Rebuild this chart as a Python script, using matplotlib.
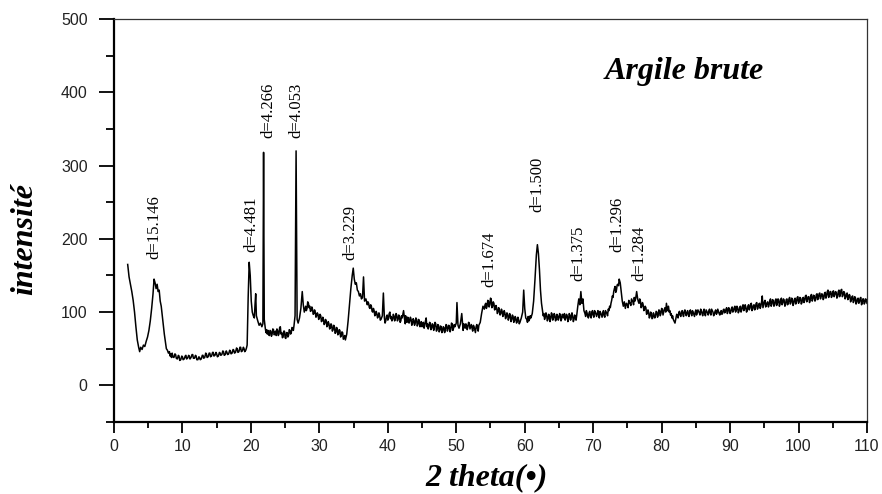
import matplotlib
matplotlib.use("Agg")
import matplotlib.pyplot as plt
from matplotlib.ticker import MultipleLocator

# Diffractogramme (2 theta, intensité)
diffractogramme = [
    (2.0, 165), (2.2, 148), (2.4, 138), (2.6, 128), (2.8, 116), (3.0, 100), (3.2, 80), (3.4, 62),
    (3.6, 52), (3.75, 46), (3.9, 52), (4.1, 49), (4.3, 55), (4.5, 53), (4.7, 60), (4.9, 66),
    (5.1, 75), (5.3, 88), (5.5, 105), (5.7, 125), (5.85, 145), (6.0, 140), (6.15, 132), (6.3, 138),
    (6.45, 128), (6.6, 130), (6.75, 115), (6.9, 108), (7.05, 95), (7.2, 82), (7.35, 70), (7.5, 60),
    (7.65, 50), (7.8, 48), (7.95, 44),
    (8.1, 46), (8.2, 40), (8.3, 43), (8.4, 38), (8.5, 44), (8.6, 39), (8.75, 38), (8.9, 43),
    (9.0, 42), (9.1, 37), (9.25, 36), (9.4, 41), (9.5, 40), (9.6, 34), (9.75, 35), (9.9, 40),
    (10.0, 39), (10.1, 35), (10.25, 36), (10.4, 40), (10.5, 41), (10.6, 36), (10.75, 37), (10.9, 41),
    (11.0, 40), (11.1, 36), (11.25, 38), (11.4, 42), (11.5, 42), (11.6, 37), (11.75, 37), (11.9, 41),
    (12.0, 40), (12.1, 35), (12.25, 35), (12.4, 39), (12.5, 38), (12.6, 35), (12.75, 36), (12.9, 41),
    (13.0, 41), (13.1, 37), (13.25, 38), (13.4, 44), (13.5, 43), (13.6, 38), (13.75, 39), (13.9, 44),
    (14.0, 44), (14.1, 39), (14.25, 40), (14.4, 45), (14.5, 45), (14.6, 40), (14.75, 41), (14.9, 45),
    (15.0, 43), (15.1, 39), (15.25, 40), (15.4, 45), (15.5, 44), (15.6, 41), (15.75, 42), (15.9, 47),
    (16.0, 46), (16.1, 41), (16.25, 42), (16.4, 47), (16.5, 45), (16.6, 42), (16.75, 43), (16.9, 48),
    (17.0, 47), (17.1, 43), (17.25, 44), (17.4, 49), (17.5, 48), (17.6, 44), (17.75, 45), (17.9, 51),
    (18.0, 50), (18.1, 45), (18.25, 46), (18.4, 52), (18.5, 52), (18.6, 46), (18.75, 47), (18.9, 52),
    (19.0, 50), (19.1, 46), (19.25, 48), (19.35, 51), (19.45, 55),
    (19.6, 120), (19.75, 168), (19.9, 150), (20.05, 115), (20.2, 100), (20.35, 95), (20.5, 92), (20.6, 110),
    (20.7, 125), (20.8, 95), (21.0, 88), (21.2, 82), (21.4, 85), (21.6, 80), (21.75, 84), (21.85, 318),
    (21.95, 90), (22.1, 78), (22.2, 72), (22.3, 76), (22.4, 70), (22.5, 75), (22.6, 69), (22.7, 68),
    (22.8, 75), (22.9, 74), (23.0, 67), (23.1, 70), (23.2, 77), (23.3, 76), (23.4, 69), (23.5, 71),
    (23.6, 74), (23.7, 68), (23.8, 77), (23.9, 75), (24.0, 68), (24.1, 70), (24.2, 79), (24.3, 80),
    (24.4, 70), (24.5, 72), (24.6, 65), (24.7, 66), (24.8, 74), (24.9, 74), (25.0, 65), (25.1, 64),
    (25.2, 72), (25.3, 72), (25.4, 66), (25.5, 68), (25.6, 76), (25.7, 75), (25.8, 70), (25.9, 72),
    (26.0, 79), (26.1, 78), (26.2, 75), (26.3, 82), (26.45, 95),
    (26.6, 320), (26.75, 90), (26.9, 85), (27.1, 92), (27.3, 105), (27.5, 128), (27.65, 110), (27.8, 100),
    (28.0, 108), (28.1, 102), (28.2, 105), (28.3, 114), (28.4, 112), (28.5, 106), (28.6, 108), (28.7, 101),
    (28.8, 102), (28.9, 107), (29.0, 104), (29.1, 97), (29.2, 98), (29.3, 103), (29.4, 100), (29.5, 93),
    (29.6, 95), (29.7, 99), (29.8, 97), (29.9, 90), (30.0, 92), (30.1, 97), (30.2, 95), (30.3, 87),
    (30.4, 88), (30.5, 93), (30.6, 90), (30.7, 83), (30.8, 85), (30.9, 90), (31.0, 88), (31.1, 80),
    (31.2, 82), (31.3, 87), (31.4, 84), (31.5, 77), (31.6, 78), (31.7, 84), (31.8, 82), (31.9, 74),
    (32.0, 76), (32.1, 82), (32.2, 80), (32.3, 71), (32.4, 72), (32.5, 79), (32.6, 78), (32.7, 69),
    (32.8, 70), (32.9, 76), (33.0, 75), (33.1, 66), (33.2, 68), (33.3, 73), (33.4, 72), (33.5, 63),
    (33.6, 64), (33.7, 68), (33.8, 62), (34.0, 70), (34.2, 88),
    (34.4, 110), (34.6, 132), (34.8, 150), (34.95, 160), (35.1, 145), (35.25, 138), (35.4, 140), (35.55, 130),
    (35.7, 128), (35.85, 122), (36.0, 125), (36.15, 118), (36.3, 120), (36.45, 148), (36.6, 115), (36.8, 118),
    (37.0, 110), (37.1, 114), (37.2, 112), (37.3, 106), (37.4, 105), (37.5, 110), (37.6, 108), (37.7, 101),
    (37.8, 100), (37.9, 105), (38.0, 102), (38.1, 95), (38.2, 96), (38.3, 101), (38.4, 98), (38.5, 92),
    (38.6, 94), (38.7, 99), (38.8, 96), (38.9, 89), (39.0, 90), (39.2, 95), (39.35, 126), (39.5, 92),
    (39.6, 85), (39.7, 88), (39.8, 94), (39.9, 96), (40.0, 89), (40.1, 92), (40.2, 98), (40.3, 100),
    (40.4, 91), (40.5, 94), (40.6, 88), (40.7, 90), (40.8, 97), (40.9, 95), (41.0, 88), (41.1, 91),
    (41.2, 98), (41.3, 96), (41.4, 88), (41.5, 90), (41.6, 96), (41.7, 94), (41.8, 86), (41.9, 88),
    (42.0, 95), (42.1, 92), (42.3, 102), (42.45, 90), (42.55, 84), (42.6, 95), (42.7, 90), (42.8, 86),
    (42.9, 93), (43.0, 92), (43.1, 85), (43.2, 88), (43.3, 93), (43.4, 90), (43.5, 82), (43.6, 84),
    (43.7, 91), (43.8, 89), (43.9, 82), (44.0, 85), (44.1, 92), (44.2, 90), (44.3, 81), (44.4, 83),
    (44.5, 90), (44.6, 88), (44.7, 80), (44.8, 84), (44.9, 87), (45.0, 80), (45.1, 84), (45.2, 86),
    (45.3, 78), (45.4, 82), (45.5, 88), (45.6, 92), (45.7, 80), (45.8, 84), (45.9, 77), (46.0, 80),
    (46.1, 86), (46.2, 85), (46.3, 76), (46.4, 78), (46.5, 84), (46.6, 83), (46.7, 75), (46.8, 80),
    (46.9, 86), (47.0, 84), (47.1, 74), (47.2, 76), (47.3, 83), (47.4, 82), (47.5, 73), (47.6, 75),
    (47.7, 81), (47.8, 80), (47.9, 72), (48.0, 74), (48.1, 80), (48.2, 79), (48.3, 72), (48.4, 76),
    (48.5, 83), (48.6, 82), (48.7, 74), (48.8, 77), (48.9, 82), (49.0, 80), (49.1, 73), (49.2, 76),
    (49.3, 85), (49.4, 84), (49.5, 75), (49.6, 78), (49.7, 83), (49.8, 80), (50.0, 85), (50.1, 113),
    (50.25, 82), (50.4, 78), (50.6, 84), (50.8, 98),
    (50.95, 80), (51.0, 75), (51.1, 84), (51.2, 80), (51.3, 78), (51.4, 84), (51.5, 82), (51.6, 76),
    (51.7, 80), (51.8, 86), (51.9, 85), (52.0, 77), (52.1, 80), (52.2, 83), (52.3, 78), (52.4, 74),
    (52.5, 82), (52.6, 80), (52.7, 76), (52.8, 72), (52.9, 80), (53.0, 83), (53.1, 78), (53.2, 74),
    (53.3, 82), (53.5, 86), (53.7, 98), (53.9, 108),
    (54.1, 104), (54.2, 110), (54.3, 112), (54.4, 105), (54.5, 108), (54.6, 116), (54.7, 115), (54.8, 107),
    (54.9, 110), (55.0, 119), (55.1, 118), (55.2, 106), (55.3, 108), (55.4, 114), (55.5, 112), (55.6, 103),
    (55.7, 104), (55.8, 109), (55.9, 106), (56.0, 98), (56.1, 100), (56.2, 106), (56.3, 103), (56.4, 96),
    (56.5, 98), (56.6, 104), (56.7, 101), (56.8, 94), (56.9, 96), (57.0, 102), (57.1, 99), (57.2, 91),
    (57.3, 94), (57.4, 99), (57.5, 97), (57.6, 89), (57.7, 92), (57.8, 98), (57.9, 95), (58.0, 87),
    (58.1, 90), (58.2, 96), (58.3, 94), (58.4, 86), (58.5, 88), (58.6, 94), (58.7, 92), (58.8, 85),
    (58.9, 87), (59.0, 93), (59.1, 90), (59.2, 84), (59.3, 86), (59.5, 92), (59.7, 100), (59.85, 130),
    (60.0, 105), (60.15, 92), (60.3, 90), (60.4, 86), (60.5, 94), (60.6, 88), (60.7, 90), (60.8, 95),
    (60.9, 92), (61.1, 98), (61.3, 115), (61.5, 145), (61.7, 178),
    (61.85, 192), (62.0, 180), (62.15, 158), (62.3, 130), (62.45, 112), (62.6, 102), (62.7, 95), (62.8, 98),
    (62.9, 90), (63.0, 94), (63.1, 99), (63.2, 96), (63.3, 88), (63.4, 90), (63.5, 97), (63.6, 95),
    (63.7, 87), (63.8, 91), (63.9, 99), (64.0, 97), (64.1, 89), (64.2, 92), (64.3, 98), (64.4, 96),
    (64.5, 88), (64.6, 90), (64.7, 97), (64.8, 95), (64.9, 89), (65.0, 92), (65.1, 98), (65.2, 96),
    (65.3, 88), (65.4, 91), (65.5, 97), (65.6, 94), (65.7, 92), (65.8, 98), (65.9, 89), (66.0, 92),
    (66.1, 97), (66.2, 95), (66.3, 87), (66.4, 90), (66.5, 98), (66.6, 96), (66.7, 89), (66.8, 93),
    (66.9, 99), (67.0, 95), (67.1, 87), (67.2, 90), (67.3, 96), (67.4, 94), (67.5, 89), (67.6, 96),
    (67.75, 108), (67.9, 118), (68.05, 110), (68.2, 128), (68.35, 112), (68.5, 118), (68.65, 102), (68.8, 98),
    (68.9, 94), (69.0, 102), (69.1, 99), (69.2, 95), (69.3, 92), (69.4, 99), (69.5, 101), (69.6, 94),
    (69.7, 92), (69.8, 100), (69.9, 102), (70.0, 96), (70.1, 93), (70.2, 102), (70.3, 100), (70.4, 97),
    (70.5, 94), (70.6, 99), (70.7, 102), (70.8, 95), (70.9, 92), (71.0, 101), (71.1, 99), (71.2, 96),
    (71.3, 93), (71.4, 99), (71.5, 102), (71.6, 95), (71.7, 93), (71.8, 102), (71.9, 100), (72.0, 98),
    (72.1, 95), (72.2, 104), (72.3, 102), (72.4, 108), (72.5, 106), (72.6, 112), (72.7, 116), (72.8, 122),
    (72.9, 120), (73.0, 128), (73.1, 132), (73.2, 135), (73.3, 127), (73.4, 130), (73.5, 137), (73.6, 138),
    (73.7, 136), (73.8, 145), (73.95, 140), (74.1, 128), (74.25, 115), (74.4, 108), (74.55, 114), (74.7, 105),
    (74.85, 112), (75.0, 110), (75.1, 106), (75.2, 116), (75.3, 113), (75.4, 112), (75.5, 109), (75.6, 118),
    (75.7, 116), (75.8, 114), (75.9, 110), (76.0, 120), (76.1, 115), (76.2, 118), (76.35, 128), (76.5, 118),
    (76.6, 114), (76.7, 112), (76.8, 118), (76.9, 115), (77.0, 106), (77.1, 108), (77.2, 113), (77.3, 110),
    (77.4, 102), (77.5, 104), (77.6, 108), (77.7, 106), (77.8, 97), (77.9, 98), (78.0, 103), (78.1, 100),
    (78.2, 92), (78.3, 94), (78.4, 100), (78.5, 98), (78.6, 91), (78.7, 92), (78.8, 99), (78.9, 96),
    (79.0, 92), (79.1, 95), (79.2, 101), (79.3, 100), (79.4, 93), (79.5, 96), (79.6, 103), (79.7, 102),
    (79.8, 95), (79.9, 98), (80.0, 105), (80.1, 104), (80.2, 96), (80.3, 100), (80.4, 104), (80.5, 106),
    (80.6, 100), (80.7, 112), (80.85, 102), (81.0, 108), (81.1, 100), (81.2, 102), (81.3, 96), (81.4, 98),
    (81.5, 92), (81.6, 95), (81.7, 90), (81.8, 88), (81.95, 85), (82.1, 92), (82.2, 97), (82.3, 95),
    (82.4, 92), (82.5, 99), (82.6, 101), (82.7, 96), (82.8, 94), (82.9, 100), (83.0, 102), (83.1, 97),
    (83.2, 94), (83.3, 101), (83.4, 103), (83.5, 98), (83.6, 95), (83.7, 100), (83.8, 102), (83.9, 96),
    (84.0, 94), (84.1, 101), (84.2, 103), (84.3, 98), (84.4, 95), (84.5, 102), (84.6, 100), (84.7, 97),
    (84.8, 94), (84.9, 100), (85.0, 103), (85.1, 96), (85.2, 99), (85.3, 103), (85.4, 101), (85.5, 99),
    (85.6, 96), (85.7, 104), (85.8, 102), (85.9, 98), (86.0, 95), (86.1, 101), (86.2, 104), (86.3, 97),
    (86.4, 95), (86.5, 103), (86.6, 101), (86.7, 99), (86.8, 96), (86.9, 102), (87.0, 104), (87.1, 98),
    (87.2, 96), (87.3, 104), (87.4, 102), (87.5, 100), (87.6, 95), (87.7, 97), (87.8, 101), (87.9, 103),
    (88.0, 97), (88.1, 99), (88.2, 104), (88.3, 101), (88.4, 98), (88.5, 96), (88.6, 100), (88.7, 102),
    (88.8, 97), (88.9, 98), (89.0, 103), (89.1, 104), (89.2, 99), (89.3, 100), (89.4, 104), (89.5, 106),
    (89.6, 98), (89.7, 101), (89.8, 106), (89.9, 104), (90.0, 98), (90.1, 100), (90.2, 105), (90.3, 107),
    (90.4, 100), (90.5, 102), (90.6, 106), (90.7, 108), (90.8, 100), (90.9, 103), (91.0, 108), (91.1, 106),
    (91.2, 99), (91.3, 101), (91.4, 106), (91.5, 108), (91.6, 100), (91.7, 103), (91.8, 108), (91.9, 110),
    (92.0, 102), (92.1, 104), (92.2, 110), (92.3, 107), (92.4, 100), (92.5, 102), (92.6, 108), (92.7, 110),
    (92.8, 103), (92.9, 105), (93.0, 111), (93.1, 112), (93.2, 102), (93.3, 104), (93.4, 109), (93.5, 110),
    (93.6, 103), (93.7, 106), (93.8, 112), (93.9, 113), (94.0, 104), (94.1, 107), (94.2, 111), (94.3, 112),
    (94.4, 105), (94.5, 108), (94.6, 114), (94.7, 122), (94.8, 106), (94.9, 110), (95.0, 114), (95.1, 116),
    (95.2, 107), (95.3, 109), (95.4, 113), (95.5, 114), (95.6, 107), (95.7, 110), (95.8, 115), (95.9, 118),
    (96.0, 108), (96.1, 111), (96.2, 117), (96.3, 116), (96.4, 108), (96.5, 110), (96.6, 116), (96.7, 118),
    (96.8, 109), (96.9, 112), (97.0, 118), (97.1, 117), (97.2, 108), (97.3, 111), (97.4, 117), (97.5, 119),
    (97.6, 110), (97.7, 113), (97.8, 118), (97.9, 116), (98.0, 108), (98.1, 110), (98.2, 117), (98.3, 118),
    (98.4, 110), (98.5, 112), (98.6, 118), (98.7, 120), (98.8, 111), (98.9, 113), (99.0, 119), (99.1, 118),
    (99.2, 109), (99.3, 112), (99.4, 117), (99.5, 119), (99.6, 111), (99.7, 114), (99.8, 120), (99.9, 121),
    (100.0, 112), (100.1, 115), (100.2, 120), (100.3, 119), (100.4, 111), (100.5, 113), (100.6, 119), (100.7, 120),
    (100.8, 113), (100.9, 116), (101.0, 122), (101.1, 123), (101.2, 114), (101.3, 117), (101.4, 121), (101.5, 121),
    (101.6, 113), (101.7, 116), (101.8, 123), (101.9, 124), (102.0, 115), (102.1, 118), (102.2, 123), (102.3, 122),
    (102.4, 115), (102.5, 117), (102.6, 124), (102.7, 125), (102.8, 117), (102.9, 120), (103.0, 125), (103.1, 126),
    (103.2, 118), (103.3, 121), (103.4, 125), (103.5, 124), (103.6, 117), (103.7, 119), (103.8, 126), (103.9, 127),
    (104.0, 119), (104.1, 122), (104.2, 128), (104.3, 130), (104.4, 120), (104.5, 123), (104.6, 128), (104.7, 128),
    (104.8, 120), (104.9, 122), (105.0, 128), (105.1, 129), (105.2, 121), (105.3, 124), (105.4, 128), (105.5, 127),
    (105.6, 119), (105.7, 121), (105.8, 128), (105.9, 130), (106.0, 121), (106.1, 124), (106.2, 130), (106.3, 131),
    (106.4, 121), (106.5, 123), (106.6, 128), (106.7, 127), (106.8, 118), (106.9, 120), (107.0, 125), (107.1, 126),
    (107.2, 117), (107.3, 119), (107.4, 124), (107.5, 123), (107.6, 114), (107.7, 116), (107.8, 121), (107.9, 122),
    (108.0, 113), (108.1, 115), (108.2, 121), (108.3, 120), (108.4, 111), (108.5, 113), (108.6, 118), (108.7, 119),
    (108.8, 112), (108.9, 114), (109.0, 119), (109.1, 120), (109.2, 110), (109.3, 112), (109.4, 118), (109.5, 118),
    (109.6, 111), (109.7, 113), (109.8, 118), (109.9, 117), (110.0, 112),
]
two_theta = [p[0] for p in diffractogramme]
intensite = [p[1] for p in diffractogramme]

# Distances réticulaires indiquées au-dessus des pics
labels_d = ["d=15.146", "d=4.481", "d=4.266", "d=4.053", "d=3.229",
            "d=1.674", "d=1.500", "d=1.375", "d=1.296", "d=1.284"]
label_x = [5.9, 20.1, 22.5, 26.6, 34.5, 54.8, 61.8, 67.8, 73.5, 76.8]
label_y = [173, 182, 337, 337, 171, 134, 236, 143, 182, 143]

fig = plt.figure(figsize=(8.82, 4.94), dpi=100)
ax = fig.add_axes([114/882, 1 - 422/494, 753/882, 403/494])

ax.plot(two_theta, intensite, color="black", lw=1.1)

for txt, x, y in zip(labels_d, label_x, label_y):
    ax.text(x, y, txt, rotation=90, ha="center", va="bottom",
            fontsize=12, family="Liberation Serif")

ax.set_xlim(0, 110)
ax.set_ylim(-50, 500)
ax.xaxis.set_major_locator(MultipleLocator(10))
ax.xaxis.set_minor_locator(MultipleLocator(5))
ax.yaxis.set_major_locator(MultipleLocator(100))
ax.yaxis.set_minor_locator(MultipleLocator(50))

ax.tick_params(axis="x", which="major", direction="out", length=8, width=1.3, pad=4)
ax.tick_params(axis="x", which="minor", direction="out", length=4, width=1.3)
ax.tick_params(axis="y", which="major", direction="out", length=11, width=1.3, pad=8)
ax.tick_params(axis="y", which="minor", direction="out", length=6, width=1.3)
for lab in ax.get_xticklabels() + ax.get_yticklabels():
    lab.set_family("Liberation Sans")
    lab.set_fontsize(11.5)
    lab.set_color("#222222")

ax.spines["left"].set_linewidth(1.6)
ax.spines["bottom"].set_linewidth(1.6)
ax.spines["top"].set_linewidth(0.9)
ax.spines["right"].set_linewidth(0.9)
ax.spines["top"].set_color("#333333")
ax.spines["right"].set_color("#333333")

ax.text(0.758, 0.87, "Argile brute", transform=ax.transAxes, ha="center", va="center",
        fontsize=23, family="Liberation Serif", fontweight="bold", fontstyle="italic")

fig.text(25/882, 1 - 239/494, "intensité", rotation=90, ha="center", va="center",
         fontsize=23, family="Liberation Serif", fontweight="bold", fontstyle="italic")
fig.text(487/882, 1 - 478/494, "2 theta(•)", ha="center", va="center",
         fontsize=23, family="Liberation Serif", fontweight="bold", fontstyle="italic")

fig.savefig("out.png", dpi=100)
